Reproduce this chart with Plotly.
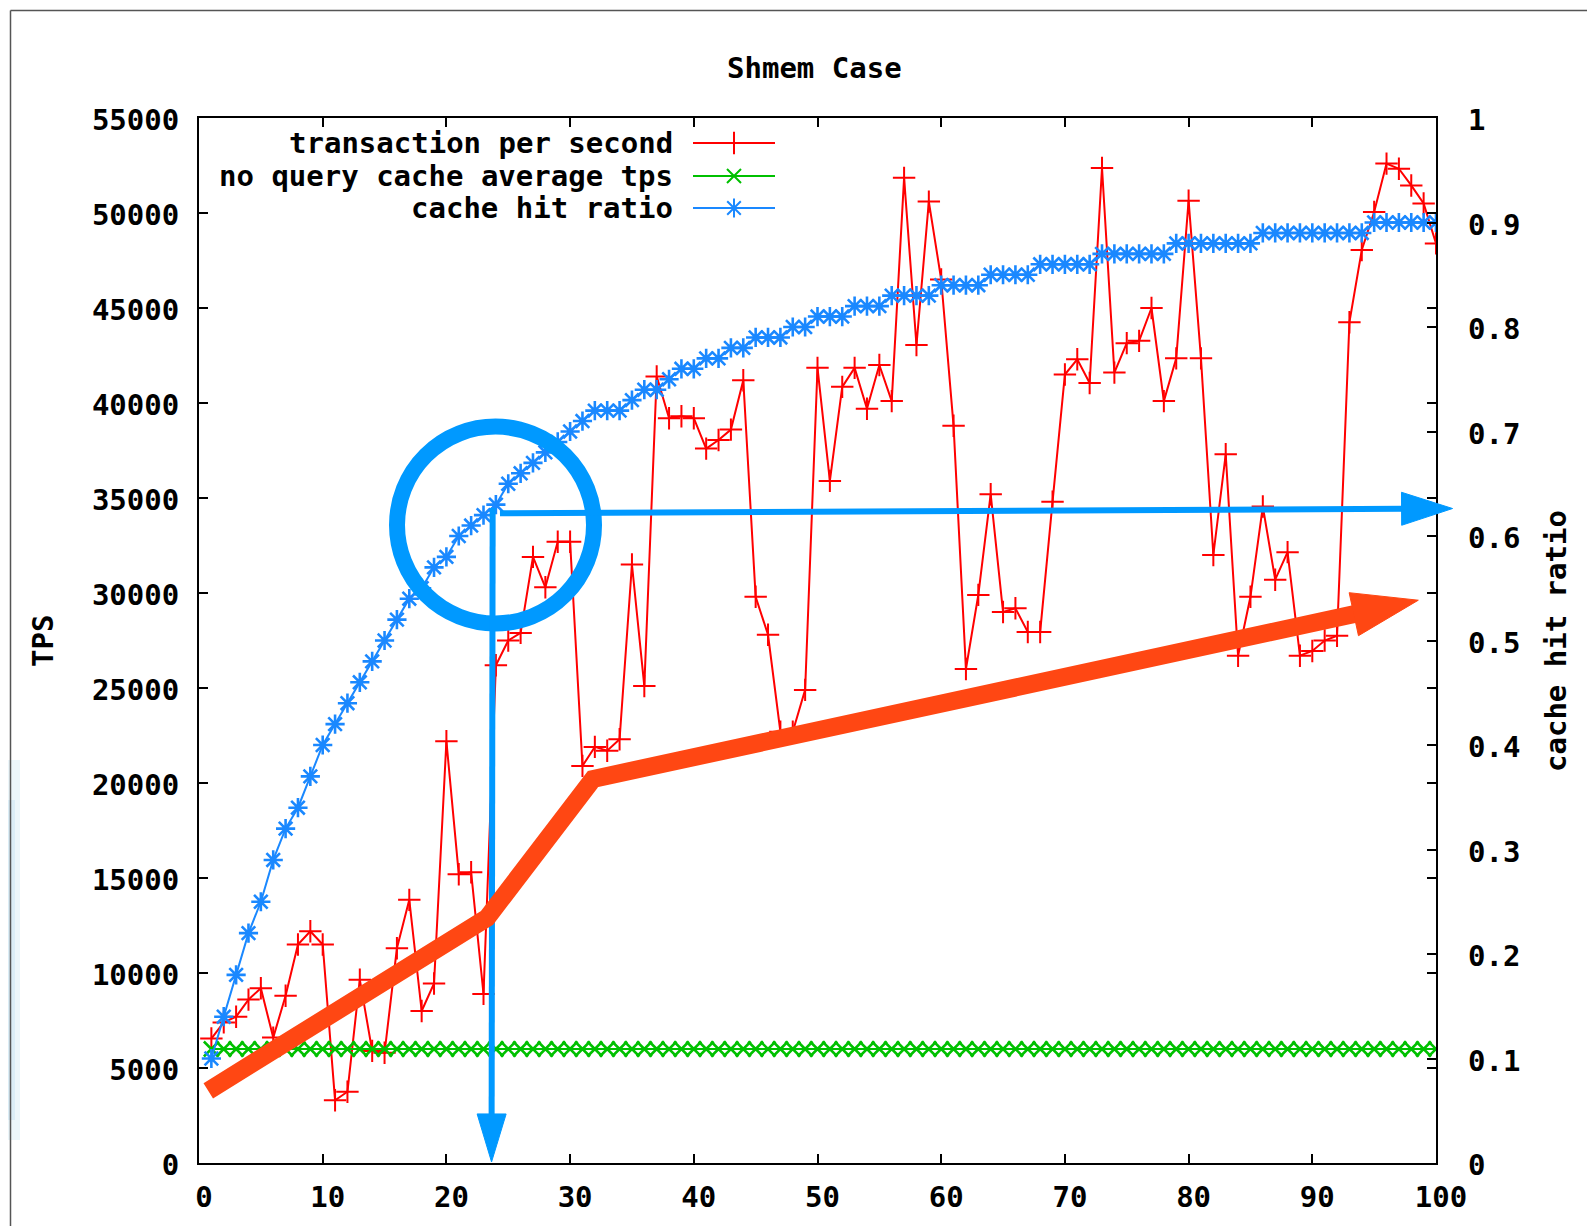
import plotly.graph_objects as go

# ---------------- data ----------------
x_vals = list(range(1, 101))

tps = [6550, 7400, 7700, 8600, 9200, 6600, 8800, 11500, 12200, 11500,
       3300, 3750, 9650, 5900, 5800, 11300, 13850, 8000, 9450, 22200,
       15200, 15300, 8900, 26200, 27500, 27900, 31900, 30300, 32700, 32700,
       20900, 21900, 21700, 22300, 31500, 25100, 41400, 39200, 39300, 39200,
       37600, 38050, 38600, 41200, 29800, 27800, 22700, 22700, 24900, 41850,
       35900, 40850, 41850, 39700, 42000, 40100, 51850, 43050, 50600, 46500,
       38800, 26000, 29900, 35200, 29000, 29200, 27950, 27950, 34800, 41500,
       42300, 41050, 52370, 41600, 43150, 43270, 45000, 40100, 42350, 50650,
       42350, 32000, 37300, 26700, 29800, 34550, 30700, 32150, 26700, 26950,
       27500, 27750, 44250, 48050, 50050, 52600, 52330, 51450, 50500, 48400]

no_cache_avg = [6000] * 100

hit_ratio = [0.10, 0.14, 0.18, 0.22, 0.25, 0.29, 0.32, 0.34, 0.37, 0.40,
             0.42, 0.44, 0.46, 0.48, 0.50, 0.52, 0.54, 0.55, 0.57, 0.58,
             0.60, 0.61, 0.62, 0.63, 0.65, 0.66, 0.67, 0.68, 0.69, 0.70,
             0.71, 0.72, 0.72, 0.72, 0.73, 0.74, 0.74, 0.75, 0.76, 0.76,
             0.77, 0.77, 0.78, 0.78, 0.79, 0.79, 0.79, 0.80, 0.80, 0.81,
             0.81, 0.81, 0.82, 0.82, 0.82, 0.83, 0.83, 0.83, 0.83, 0.84,
             0.84, 0.84, 0.84, 0.85, 0.85, 0.85, 0.85, 0.86, 0.86, 0.86,
             0.86, 0.86, 0.87, 0.87, 0.87, 0.87, 0.87, 0.87, 0.88, 0.88,
             0.88, 0.88, 0.88, 0.88, 0.88, 0.89, 0.89, 0.89, 0.89, 0.89,
             0.89, 0.89, 0.89, 0.89, 0.90, 0.90, 0.90, 0.90, 0.90, 0.90]

series_names = ["transaction per second", "no query cache average tps", "cache hit ratio"]
x_ticks = list(range(0, 101, 10))
y_ticks = list(range(0, 55001, 5000))
y2_ticks = [i / 10 for i in range(11)]

# ---------------- layout geometry ----------------
# the page body adds an 8px offset; page-pixel positions are converted
# to figure coordinates by subtracting OFF.
OFF = 8
PAGE_W, PAGE_H = 1595, 1226
W, H = PAGE_W - OFF, PAGE_H - OFF
PLOT_L, PLOT_R, PLOT_T, PLOT_B = 199, 1436, 118, 1163   # page pixels
ML, MT = PLOT_L - OFF, PLOT_T - OFF
MR, MB = W - (PLOT_R - OFF), H - (PLOT_B - OFF)
PW = PLOT_R - PLOT_L
PH = PLOT_B - PLOT_T
X_MAX, Y_MAX, Y2_MAX = 100, 55000, 1.0

FONT = "DejaVu Sans Mono"
FS = 29
RED, GREEN, BLUE = "#ff0000", "#00c000", "#1a88ff"
ANN_BLUE, ANN_RED = "#0099ff", "#ff4713"


def px_x(x):
    return PLOT_L + x / X_MAX * PW


def px_y(v, vmax):
    return PLOT_B - v / vmax * PH


def pap_x(px):
    return (px - PLOT_L) / PW


def pap_y(py):
    return (PLOT_B - py) / PH


fig = go.Figure()

fig.add_trace(go.Scatter(
    x=x_vals, y=tps, mode="lines+markers", name=series_names[0],
    line=dict(color=RED, width=2),
    marker=dict(symbol="cross-thin", size=16, color=RED, line=dict(color=RED, width=2)),
    showlegend=False))
fig.add_trace(go.Scatter(
    x=x_vals, y=no_cache_avg, mode="lines+markers", name=series_names[1],
    line=dict(color=GREEN, width=2),
    marker=dict(symbol="x-thin", size=15, color=GREEN, line=dict(color=GREEN, width=2.5)),
    showlegend=False))
fig.add_trace(go.Scatter(
    x=x_vals, y=hit_ratio, mode="lines+markers", name=series_names[2], yaxis="y2",
    line=dict(color=BLUE, width=2),
    marker=dict(symbol="asterisk-open", size=16, color=BLUE, line=dict(color=BLUE, width=2.6)),
    showlegend=False))

# ---------------- manual legend (text left of sample, gnuplot style) ----------------
leg_rows_py = [143, 176, 208]
leg_text_right = 675
leg_line = (693, 775)
leg_colors = [RED, GREEN, BLUE]
leg_symbols = ["cross-thin", "x-thin", "asterisk-open"]
leg_sizes = [16, 14, 16]
annotations = []
for name, py, col, sym, sz in zip(series_names, leg_rows_py, leg_colors, leg_symbols, leg_sizes):
    yp = pap_y(py)
    fig.add_trace(go.Scatter(
        x=[pap_x(leg_line[0]), pap_x(leg_line[1])], y=[yp, yp], mode="lines",
        line=dict(color=col, width=2), xaxis="x3", yaxis="y3",
        showlegend=False, hoverinfo="skip"))
    fig.add_trace(go.Scatter(
        x=[pap_x((leg_line[0] + leg_line[1]) / 2)], y=[yp], mode="markers",
        marker=dict(symbol=sym, size=sz, color=col, line=dict(color=col, width=2)),
        xaxis="x3", yaxis="y3", showlegend=False, hoverinfo="skip"))
    annotations.append(dict(
        text=name, xref="paper", yref="paper", x=pap_x(leg_text_right), y=yp,
        xanchor="right", yanchor="middle", showarrow=False,
        font=dict(family=FONT, size=FS, color="black", weight="bold")))

# title and axis titles
annotations.append(dict(text="Shmem Case", xref="paper", yref="paper", x=pap_x(814), y=pap_y(68),
                        showarrow=False, xanchor="center", yanchor="middle",
                        font=dict(family=FONT, size=FS, color="black", weight="bold")))
annotations.append(dict(text="TPS", xref="paper", yref="paper", x=pap_x(43), y=pap_y(641),
                        textangle=-90, showarrow=False, xanchor="center", yanchor="middle",
                        font=dict(family=FONT, size=FS, color="black", weight="bold")))
annotations.append(dict(text="cache hit ratio", xref="paper", yref="paper", x=pap_x(1556), y=pap_y(641),
                        textangle=-90, showarrow=False, xanchor="center", yanchor="middle",
                        font=dict(family=FONT, size=FS, color="black", weight="bold")))

# ---------------- overlay annotations (circle & arrows) ----------------
shapes = []

# slide frame + faint background artifact on the left edge
for (x0p, x1p, y0p, y1p, op) in [(OFF, 20, 760, 1140, 0.35), (OFF, 15, 800, 1120, 0.5)]:
    shapes.append(dict(type="rect", xref="paper", yref="paper", layer="below",
                       x0=pap_x(x0p), x1=pap_x(x1p), y0=pap_y(y1p), y1=pap_y(y0p),
                       fillcolor="#c9e4f2", line=dict(width=0), opacity=op))
shapes.append(dict(type="line", xref="paper", yref="paper",
                   x0=pap_x(10.5), x1=pap_x(PAGE_W), y0=pap_y(10.5), y1=pap_y(10.5),
                   line=dict(color="#555555", width=1.5)))
shapes.append(dict(type="line", xref="paper", yref="paper",
                   x0=pap_x(10.5), x1=pap_x(10.5), y0=pap_y(10.5), y1=pap_y(PAGE_H),
                   line=dict(color="#555555", width=1.5)))

# highlight circle around the cache-hit curve (data units: x, ratio)
circle_center = (23.97, 0.6105)
circle_radius_px = 98.5
cx, cy = px_x(circle_center[0]), px_y(circle_center[1], Y2_MAX)
shapes.append(dict(type="circle", xref="paper", yref="paper",
                   xsizemode="pixel", ysizemode="pixel",
                   xanchor=pap_x(cx), yanchor=pap_y(cy),
                   x0=-circle_radius_px, x1=circle_radius_px,
                   y0=-circle_radius_px, y1=circle_radius_px,
                   line=dict(color=ANN_BLUE, width=16)))


def arrow(points, color, width, head_len, head_half):
    """points: list of page-pixel tuples; last one is the arrow tip."""
    (tx, ty) = points[-1]
    (px_, py_) = points[-2]
    dx, dy = tx - px_, ty - py_
    d = (dx * dx + dy * dy) ** 0.5
    ux, uy = dx / d, dy / d
    bx, by = tx - ux * head_len, ty - uy * head_len
    line_pts = points[:-1] + [(bx + ux * 2, by + uy * 2)]
    path = "M " + " L ".join(f"{pap_x(a):.5f},{pap_y(b):.5f}" for a, b in line_pts)
    shapes.append(dict(type="path", xref="paper", yref="paper", path=path,
                       line=dict(color=color, width=width)))
    nx, ny = -uy, ux
    tri = [(bx + nx * head_half, by + ny * head_half),
           (tx, ty),
           (bx - nx * head_half, by - ny * head_half)]
    tpath = "M " + " L ".join(f"{pap_x(a):.5f},{pap_y(b):.5f}" for a, b in tri) + " Z"
    shapes.append(dict(type="path", xref="paper", yref="paper", path=tpath,
                       fillcolor=color, line=dict(color=color, width=1)))


# vertical guide: from the curve down to the x axis (x, ratio)
v_guide = [(23.74, 0.6268), (23.65, 0.001)]
arrow([(px_x(a), px_y(b, Y2_MAX)) for a, b in v_guide], ANN_BLUE, 6, 48, 14.5)
# horizontal guide: from the curve to the right axis (x, ratio)
h_guide = [(24.33, 0.6217), (101.34, 0.6263)]
arrow([(px_x(a), px_y(b, Y2_MAX)) for a, b in h_guide], ANN_BLUE, 6, 51, 16.5)
# trend arrow over the TPS curve (x, tps)
trend = [(0.75, 3800), (23.28, 12900), (31.85, 20210), (98.57, 29620)]
arrow([(px_x(a), px_y(b, Y_MAX)) for a, b in trend], ANN_RED, 18, 66, 22)

tick_font = dict(family=FONT, size=FS, color="black", weight="bold")

fig.update_layout(
    width=W, height=H,
    margin=dict(l=ML, r=MR, t=MT, b=MB, pad=0),
    paper_bgcolor="white", plot_bgcolor="white",
    xaxis=dict(range=[0, X_MAX], tickvals=x_ticks, ticks="inside", ticklen=9, tickwidth=2,
               tickcolor="black", showline=True, linewidth=2, linecolor="black", mirror="ticks",
               showgrid=False, zeroline=False, tickfont=tick_font, ticklabelstandoff=7,
               ticklabelshift=5),
    yaxis=dict(range=[0, Y_MAX], tickvals=y_ticks, tickformat="d", ticks="inside", ticklen=9,
               tickwidth=2, tickcolor="black", showline=True, linewidth=2, linecolor="black",
               mirror="ticks", showgrid=False, zeroline=False, tickfont=tick_font,
               ticklabelstandoff=12, ticklabelshift=2),
    yaxis2=dict(range=[0, Y2_MAX], tickvals=y2_ticks, overlaying="y", side="right",
                ticks="inside", ticklen=9, tickwidth=2, tickcolor="black", showline=False,
                showgrid=False, zeroline=False, tickfont=tick_font, ticklabelstandoff=31,
                ticklabelshift=2),
    xaxis3=dict(range=[0, 1], overlaying="x", visible=False, anchor="y3"),
    yaxis3=dict(range=[0, 1], overlaying="y", visible=False, anchor="x3"),
    annotations=annotations,
    shapes=shapes,
    showlegend=False,
)

fig.write_html("out.html")
